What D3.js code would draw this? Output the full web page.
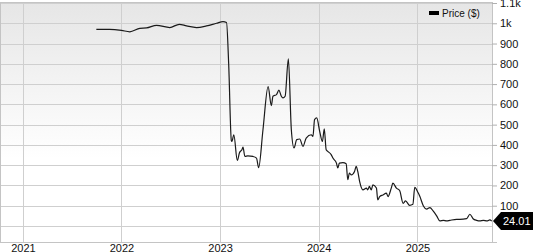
<!DOCTYPE html>
<html>
<head>
<meta charset="utf-8">
<script src="https://cdn.jsdelivr.net/npm/d3@7"></script>
<style>
  html, body { margin: 0; padding: 0; background: #fff; }
  svg { display: block; font-family: "Liberation Sans", Arial, sans-serif; }
</style>
</head>
<body>
<svg id="chart" width="533" height="252"></svg>
<script>
var dates = ["2021-09-30","2021-11-18","2022-01-01","2022-02-01","2022-03-10","2022-04-04","2022-05-11","2022-06-29",
  "2022-08-03","2022-08-30","2022-10-06","2022-11-12","2022-12-19","2023-01-12","2023-01-25","2023-02-02","2023-02-12",
  "2023-02-14","2023-02-21","2023-03-06","2023-03-14","2023-03-23","2023-03-27","2023-04-03","2023-04-14","2023-05-03",
  "2023-05-16","2023-05-24","2023-06-09","2023-06-28","2023-07-10","2023-07-16","2023-07-29","2023-08-07","2023-08-16",
  "2023-08-22","2023-08-30","2023-09-11","2023-09-22","2023-10-02","2023-10-12","2023-10-23","2023-11-04","2023-11-16",
  "2023-12-05","2023-12-11","2023-12-17","2023-12-25","2024-01-05","2024-01-15","2024-01-22","2024-01-29","2024-02-04",
  "2024-02-17","2024-02-23","2024-03-07","2024-03-12","2024-03-18","2024-03-31","2024-04-12","2024-04-18","2024-04-24",
  "2024-05-01","2024-05-13","2024-05-19","2024-05-25","2024-06-01","2024-06-13","2024-06-26","2024-07-01","2024-07-07",
  "2024-07-14","2024-07-20","2024-08-02","2024-08-07","2024-08-14","2024-08-26","2024-09-08","2024-09-14","2024-09-26",
  "2024-10-02","2024-10-15","2024-10-27","2024-11-09","2024-11-18","2024-12-03","2024-12-15","2024-12-22","2025-01-03",
  "2025-01-10","2025-01-23","2025-02-04","2025-02-16","2025-02-28","2025-03-13","2025-03-25","2025-04-07","2025-04-19",
  "2025-05-01","2025-05-26","2025-06-07","2025-07-02","2025-07-14","2025-07-26","2025-08-08","2025-08-20","2025-09-02",
  "2025-09-15","2025-09-26","2025-10-03"];
var prices = [970,970,965,958,975,977,990,979,
  995,987,979,987,1000,1008,1004,800,420,
  417,450,323,361,376,389,343,346,343,
  335,288,475,687,594,640,648,670,640,
  632,640,825,475,385,426,429,393,434,
  450,442,525,533,467,417,479,376,368,
  351,335,310,286,310,313,307,228,261,
  252,269,294,269,219,178,187,178,195,
  178,203,187,129,145,153,162,145,187,
  211,187,175,112,124,102,107,190,165,
  145,99,83,91,74,50,25,28,25,
  28,33,33,36,58,36,28,25,28,
  25,30,24.01];
var yTicks = [100,200,300,400,500,600,700,800,900,1000,1100];
var yTickLabels = ["100","200","300","400","500","600","700","800","900","1k","1.1k"];
var xTicks = ["2021-01-01","2022-01-01","2023-01-01","2024-01-01","2025-01-01"];
var xTickLabels = ["2021","2022","2023","2024","2025"];
var seriesName = "Price ($)";
var lastLabel = "24.01";

function drawChart() {
    var parse = d3.timeParse("%Y-%m-%d");
    var data = dates.map(function (d, i) { return { date: parse(d), value: prices[i] }; });

    var svg = d3.select("#chart");
    var plotLeft = 1, plotRight = 492, plotTop = 3, plotBottom = 242;

    var x = d3.scaleTime().domain([parse("2020-10-12"), parse("2025-10-04")]).range([plotLeft, plotRight]);
    var y = d3.scaleLinear().domain([-79, 1100]).range([plotBottom, plotTop]);

    var defs = svg.append("defs");
    var grad = defs.append("linearGradient").attr("id", "bg").attr("x1", 0).attr("y1", 0).attr("x2", 0).attr("y2", 1);
    grad.append("stop").attr("offset", "0%").attr("stop-color", "#e6e6e6");
    grad.append("stop").attr("offset", "65%").attr("stop-color", "#ffffff");
    grad.append("stop").attr("offset", "100%").attr("stop-color", "#ffffff");

    svg.append("rect")
        .attr("x", plotLeft).attr("y", plotTop)
        .attr("width", plotRight - plotLeft).attr("height", plotBottom - plotTop)
        .attr("fill", "url(#bg)");

    // horizontal grid
    svg.append("g").selectAll("line")
        .data([0].concat(yTicks))
        .enter().append("line")
        .attr("x1", plotLeft).attr("x2", plotRight)
        .attr("y1", function (d) { return Math.round(y(d)) + 0.5; })
        .attr("y2", function (d) { return Math.round(y(d)) + 0.5; })
        .attr("stroke", "#cfcfcf");

    // vertical grid
    svg.append("g").selectAll("line")
        .data(xTicks)
        .enter().append("line")
        .attr("x1", function (d) { return Math.round(x(parse(d))) + 0.5; })
        .attr("x2", function (d) { return Math.round(x(parse(d))) + 0.5; })
        .attr("y1", plotTop).attr("y2", plotBottom)
        .attr("stroke", "#cfcfcf");

    // frame
    svg.append("rect")
        .attr("x", plotLeft - 0.5).attr("y", plotTop - 0.5)
        .attr("width", plotRight - plotLeft + 1).attr("height", plotBottom - plotTop + 1)
        .attr("fill", "none").attr("stroke", "#c4c4c4");

    // right axis
    var yAxis = d3.axisRight(y)
        .tickValues(yTicks)
        .tickSize(5)
        .tickPadding(3)
        .tickFormat(function (d, i) { return yTickLabels[i]; });
    var ya = svg.append("g").attr("transform", "translate(" + plotRight + ",0)").call(yAxis);
    ya.select(".domain").attr("stroke", "#c4c4c4");
    ya.selectAll(".tick line").attr("stroke", "#b0b0b0");
    ya.selectAll("text").attr("fill", "#111").attr("font-size", 11).attr("font-family", "Liberation Sans, Arial, sans-serif");

    // bottom labels
    var xAxis = d3.axisBottom(x)
        .tickValues(xTicks.map(parse))
        .tickSize(0)
        .tickPadding(2)
        .tickFormat(function (d, i) { return xTickLabels[i]; });
    var xa = svg.append("g").attr("transform", "translate(0," + plotBottom + ")").call(xAxis);
    xa.select(".domain").remove();
    xa.selectAll("text").attr("fill", "#111").attr("font-size", 11).attr("font-family", "Liberation Sans, Arial, sans-serif");

    // price line
    var line = d3.line()
        .x(function (d) { return x(d.date); })
        .y(function (d) { return y(d.value); })
        .curve(d3.curveMonotoneX);
    svg.append("path")
        .datum(data)
        .attr("d", line)
        .attr("fill", "none")
        .attr("stroke", "#1a1a1a")
        .attr("stroke-width", 1.2);

    // legend
    var lg = svg.append("g").attr("transform", "translate(429,11)");
    lg.append("rect").attr("width", 10).attr("height", 4).attr("fill", "#000");
    lg.append("text").attr("x", 13).attr("y", 5.5).attr("font-size", 10).attr("fill", "#111").text(seriesName);

    // last value callout
    var last = data[data.length - 1];
    var cy = y(last.value), cx = plotRight + 1;
    svg.append("path")
        .attr("d", "M" + cx + "," + cy + "L" + (cx + 8) + "," + (cy - 9) + "L533," + (cy - 9) + "L533," + (cy + 9) + "L" + (cx + 8) + "," + (cy + 9) + "Z")
        .attr("fill", "#000");
    svg.append("text")
        .attr("x", cx + 10).attr("y", cy + 4)
        .attr("font-size", 11).attr("fill", "#fff")
        .text(lastLabel);
}

drawChart();
</script>
</body>
</html>
